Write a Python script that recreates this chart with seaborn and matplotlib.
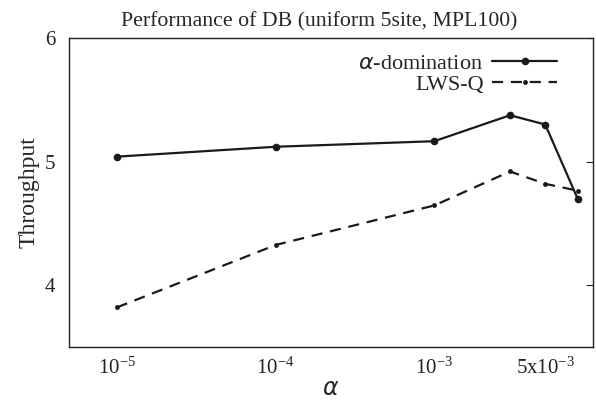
import numpy as np
import pandas as pd
import matplotlib
matplotlib.use("Agg")
import matplotlib.pyplot as plt
import seaborn as sns

# values
alpha = [1e-5, 1e-4, 1e-3, 3e-3, 5e-3, 8e-3]
alpha_dom = [5.04, 5.12, 5.165, 5.375, 5.30, 4.70]
lws_q = [3.82, 4.325, 4.645, 4.92, 4.82, 4.765]
xticks = [1e-5, 1e-4, 1e-3, 3e-3, 5e-3]
xtick_labels = [r"$\mathrm{10^{-5}}$", r"$\mathrm{10^{-4}}$", r"$\mathrm{10^{-3}}$", "",
                r"$\mathrm{5x10^{-3}}$"]
yticks = [4, 5, 6]

sns.set_style("white")
plt.rcParams["font.family"] = ["Liberation Serif", "DejaVu Sans"]
plt.rcParams["mathtext.fontset"] = "custom"
plt.rcParams["mathtext.rm"] = "Liberation Serif"
plt.rcParams["mathtext.it"] = "DejaVu Sans:italic"

df_a = pd.DataFrame({"alpha": alpha, "thr": alpha_dom})
df_l = pd.DataFrame({"alpha": alpha, "thr": lws_q})

fig, ax = plt.subplots(figsize=(5.96, 4.03), dpi=100)
fig.subplots_adjust(left=0.1158, right=0.995, top=0.9057, bottom=0.139)

sns.lineplot(data=df_a, x="alpha", y="thr", ax=ax, color="#1a1a1a", lw=1.6,
             marker="o", markersize=5.5, markeredgewidth=0, label=r"$\alpha$-domination")
sns.lineplot(data=df_l, x="alpha", y="thr", ax=ax, color="#1a1a1a", lw=1.6,
             linestyle=(0, (5, 3.5)), marker="o", markersize=3.5, markeredgewidth=0,
             label="LWS-Q")

ax.set_xscale("log")
ax.set_xlim(5e-6, 1e-2)
ax.set_ylim(3.5, 6)
ax.set_xticks(xticks)
ax.set_xticklabels(xtick_labels)
ax.minorticks_off()
ax.set_yticks(yticks)
ax.tick_params(axis="x", direction="in", length=5, width=0.8, labelsize=15, pad=8,
               colors="#222222")
ax.tick_params(axis="y", direction="in", length=5, width=0.8, labelsize=15, pad=10,
               right=True, colors="#222222")
for s in ax.spines.values():
    s.set_color("#222222")
    s.set_linewidth(1.0)

ax.set_title("Performance of DB (uniform 5site, MPL100)", fontsize=15.7, pad=8, x=0.478)
ax.set_xlabel(r"$\alpha$", fontsize=17, labelpad=0)
ax.set_ylabel("Throughput", fontsize=17, labelpad=4)

ax.legend(loc="upper right", bbox_to_anchor=(0.931, 0.95), frameon=False,
          markerfirst=False, fontsize=16, handlelength=2.9, borderaxespad=0,
          borderpad=0, labelspacing=0.0, handletextpad=0.4)

plt.savefig("out.png", dpi=100)
